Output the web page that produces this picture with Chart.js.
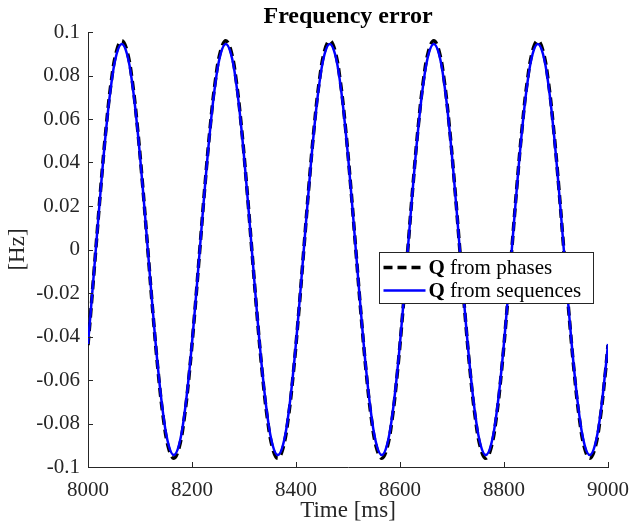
<!DOCTYPE html>
<html>
<head>
<meta charset="utf-8">
<script src="https://cdn.jsdelivr.net/npm/chart.js@4/dist/chart.umd.min.js"></script>
<style>
  html, body { margin: 0; padding: 0; background: #fff; }
  canvas { display: block; }
</style>
</head>
<body>
<canvas id="freqChart" width="631" height="527"></canvas>
<script>
// --- DADOS ---
const timeMs = [
    8000, 8005,
    8015, 8025, 8035, 8045, 8055, 8065, 8075, 8085, 8095, 8105,
    8115, 8125, 8135, 8145, 8155, 8165, 8175, 8185, 8195, 8205,
    8215, 8225, 8235, 8245, 8255, 8265, 8275, 8285, 8295, 8305,
    8315, 8325, 8335, 8345, 8355, 8365, 8375, 8385, 8395, 8405,
    8415, 8425, 8435, 8445, 8455, 8465, 8475, 8485, 8495, 8505,
    8515, 8525, 8535, 8545, 8555, 8565, 8575, 8585, 8595, 8605,
    8615, 8625, 8635, 8645, 8655, 8665, 8675, 8685, 8695, 8705,
    8715, 8725, 8735, 8745, 8755, 8765, 8775, 8785, 8795, 8805,
    8815, 8825, 8835, 8845, 8855, 8865, 8875, 8885, 8895, 8905,
    8915, 8925, 8935, 8945, 8955, 8965, 8975, 8985, 8995,
    9000
];

// Q from phases (linha preta tracejada)
const qPhases = [
    -0.0440, -0.0297,
    0, 0.0297, 0.0564, 0.0777, 0.0913, 0.0960, 0.0913, 0.0777, 0.0564, 0.0297,
    0, -0.0297, -0.0564, -0.0777, -0.0913, -0.0960, -0.0913, -0.0777, -0.0564, -0.0297,
    0, 0.0297, 0.0564, 0.0777, 0.0913, 0.0960, 0.0913, 0.0777, 0.0564, 0.0297,
    0, -0.0297, -0.0564, -0.0777, -0.0913, -0.0960, -0.0913, -0.0777, -0.0564, -0.0297,
    0, 0.0297, 0.0564, 0.0777, 0.0913, 0.0960, 0.0913, 0.0777, 0.0564, 0.0297,
    0, -0.0297, -0.0564, -0.0777, -0.0913, -0.0960, -0.0913, -0.0777, -0.0564, -0.0297,
    0, 0.0297, 0.0564, 0.0777, 0.0913, 0.0960, 0.0913, 0.0777, 0.0564, 0.0297,
    0, -0.0297, -0.0564, -0.0777, -0.0913, -0.0960, -0.0913, -0.0777, -0.0564, -0.0297,
    0, 0.0297, 0.0564, 0.0777, 0.0913, 0.0960, 0.0913, 0.0777, 0.0564, 0.0297,
    0, -0.0297, -0.0564, -0.0777, -0.0913, -0.0960, -0.0913, -0.0777, -0.0564,
    -0.0440
];

// Q from sequences (linha azul)
const qSequences = [
    -0.0434, -0.0292,
    0, 0.0292, 0.0556, 0.0765, 0.0899, 0.0945, 0.0899, 0.0765, 0.0556, 0.0292,
    0, -0.0292, -0.0556, -0.0765, -0.0899, -0.0945, -0.0899, -0.0765, -0.0556, -0.0292,
    0, 0.0292, 0.0556, 0.0765, 0.0899, 0.0945, 0.0899, 0.0765, 0.0556, 0.0292,
    0, -0.0292, -0.0556, -0.0765, -0.0899, -0.0945, -0.0899, -0.0765, -0.0556, -0.0292,
    0, 0.0292, 0.0556, 0.0765, 0.0899, 0.0945, 0.0899, 0.0765, 0.0556, 0.0292,
    0, -0.0292, -0.0556, -0.0765, -0.0899, -0.0945, -0.0899, -0.0765, -0.0556, -0.0292,
    0, 0.0292, 0.0556, 0.0765, 0.0899, 0.0945, 0.0899, 0.0765, 0.0556, 0.0292,
    0, -0.0292, -0.0556, -0.0765, -0.0899, -0.0945, -0.0899, -0.0765, -0.0556, -0.0292,
    0, 0.0292, 0.0556, 0.0765, 0.0899, 0.0945, 0.0899, 0.0765, 0.0556, 0.0292,
    0, -0.0292, -0.0556, -0.0765, -0.0899, -0.0945, -0.0899, -0.0765, -0.0556,
    -0.0434
];

const xTicks = [8000, 8200, 8400, 8600, 8800, 9000];
const yTicks = [-0.1, -0.08, -0.06, -0.04, -0.02, 0, 0.02, 0.04, 0.06, 0.08, 0.1];
const seriesNames = ['from phases', 'from sequences'];

// --- ESTILO ---
const SERIF = "'Liberation Serif', 'Times New Roman', serif";
const INK = '#262626';

function toPoints(ys) {
    return timeMs.map((t, i) => ({ x: t, y: ys[i] }));
}

function fmtY(v) {
    const s = Number(v.toFixed(2)).toString();
    return s === '-0' ? '0' : s;
}

// titulo, ticks internos e legenda desenhados a mao (estilo matlab)
const matlabLook = {
    id: 'matlabLook',
    afterDatasetsDraw(chart) {
        const { ctx, chartArea: a, scales } = chart;
        ctx.save();

        // ticks para dentro
        ctx.strokeStyle = INK;
        ctx.lineWidth = 1;
        ctx.beginPath();
        xTicks.forEach(t => {
            const px = Math.round(scales.x.getPixelForValue(t)) + 0.5;
            ctx.moveTo(px, a.bottom);
            ctx.lineTo(px, a.bottom - 5);
        });
        yTicks.forEach(t => {
            const py = Math.round(scales.y.getPixelForValue(t)) + 0.5;
            ctx.moveTo(a.left, py);
            ctx.lineTo(a.left + 5, py);
        });
        ctx.stroke();

        // titulo
        ctx.fillStyle = '#000';
        ctx.font = 'bold 24px ' + SERIF;
        ctx.textAlign = 'center';
        ctx.textBaseline = 'alphabetic';
        ctx.fillText('Frequency error', (a.left + a.right) / 2, a.top - 9);

        // legenda
        const bx = 379.5, by = 252.5, bw = 214, bh = 51;
        ctx.fillStyle = '#fff';
        ctx.fillRect(bx, by, bw, bh);
        ctx.strokeStyle = INK;
        ctx.lineWidth = 1;
        ctx.strokeRect(bx, by, bw, bh);

        const rows = [
            { y: by + 15, color: '#000', width: 3.5, dash: [9, 5] },
            { y: by + 38, color: '#0000ff', width: 2.5, dash: [] }
        ];
        rows.forEach((r, i) => {
            ctx.beginPath();
            ctx.setLineDash(r.dash);
            ctx.strokeStyle = r.color;
            ctx.lineWidth = r.width;
            ctx.moveTo(bx + 4, r.y);
            ctx.lineTo(bx + 46, r.y);
            ctx.stroke();
            ctx.setLineDash([]);

            ctx.textAlign = 'left';
            ctx.textBaseline = 'middle';
            ctx.fillStyle = '#000';
            ctx.font = 'bold 21px ' + SERIF;
            ctx.fillText('Q', bx + 49, r.y + 1);
            const qw = ctx.measureText('Q ').width;
            ctx.font = '21px ' + SERIF;
            ctx.fillText(seriesNames[i], bx + 49 + qw, r.y + 1);
        });

        ctx.restore();
    }
};

// --- GRAFICO ---
window.onload = () => {
    const ctx = document.getElementById('freqChart').getContext('2d');
    new Chart(ctx, {
        type: 'line',
        data: {
            datasets: [{
                label: 'Q from phases',
                data: toPoints(qPhases),
                borderColor: '#000',
                borderWidth: 3.5,
                borderDash: [9, 5],
                pointRadius: 0,
                tension: 0.4,
                order: 1
            }, {
                label: 'Q from sequences',
                data: toPoints(qSequences),
                borderColor: '#0000ff',
                borderWidth: 2.5,
                pointRadius: 0,
                tension: 0.4,
                order: 0
            }]
        },
        options: {
            responsive: false,
            animation: false,
            layout: { padding: { top: 32, right: 23, left: 0, bottom: 0 } },
            plugins: { legend: { display: false }, tooltip: { enabled: false } },
            scales: {
                x: {
                    type: 'linear',
                    min: 8000, max: 9000,
                    afterFit: s => { s.height = 60; s.paddingLeft = 0; s.paddingRight = 0; },
                    afterBuildTicks: s => { s.ticks = xTicks.map(v => ({ value: v })); },
                    grid: { display: true, drawOnChartArea: false, drawTicks: false },
                    border: { display: true, color: INK, width: 1 },
                    ticks: {
                        padding: 11, color: INK, font: { family: SERIF, size: 21 }, maxRotation: 0,
                        callback: v => String(v)
                    },
                    title: {
                        display: true, text: 'Time [ms]', color: INK,
                        font: { family: SERIF, size: 23 }, padding: { top: 0, bottom: 2 }
                    }
                },
                y: {
                    min: -0.1, max: 0.1,
                    afterFit: s => { s.width = 88; s.paddingTop = 0; s.paddingBottom = 0; },
                    afterBuildTicks: s => { s.ticks = yTicks.map(v => ({ value: v })); },
                    grid: { display: true, drawOnChartArea: false, drawTicks: false },
                    border: { display: true, color: INK, width: 1 },
                    ticks: { padding: 8, color: INK, font: { family: SERIF, size: 21 }, callback: v => fmtY(v) },
                    title: {
                        display: true, text: '[Hz]', color: INK,
                        font: { family: SERIF, size: 23 }, padding: { top: 4, bottom: 0 }
                    }
                }
            }
        },
        plugins: [matlabLook]
    });
};
</script>
</body>
</html>
